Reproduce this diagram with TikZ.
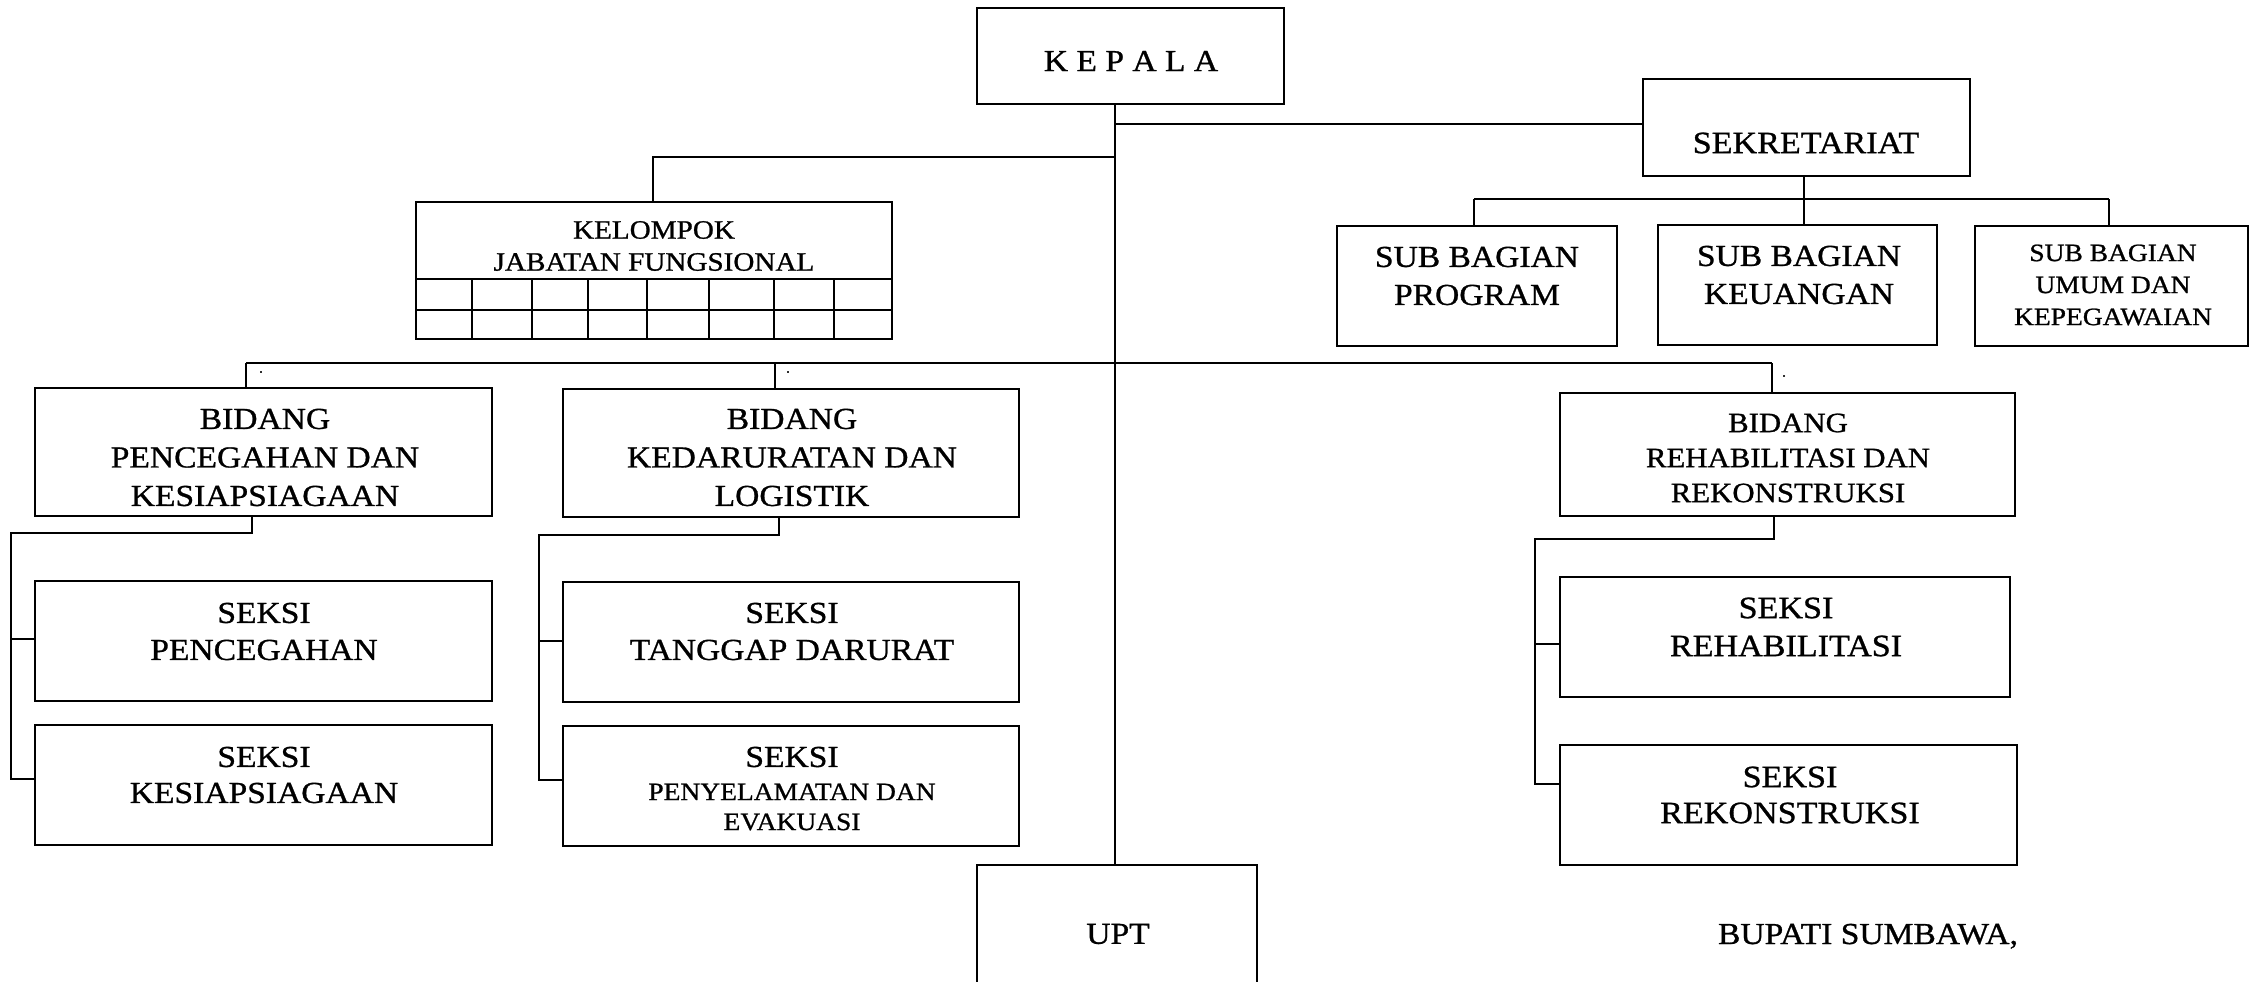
\documentclass[tikz,border=0pt]{standalone}
\usepackage{fontspec}
\setmainfont{Liberation Serif}[FakeStretch=1.1,FakeBold=0.9]
\begin{document}
\begin{tikzpicture}[x=1pt,y=-1pt,
  box/.style={draw,line width=2.2pt,inner sep=0pt,outer sep=0pt},
  txt/.style={align=center,inner sep=0pt,font=\fontsize{30.5}{38}\selectfont},
  conn/.style={line width=1.9pt},
  mainline/.style={line width=1.6pt},
  gridline/.style={line width=1.8pt},
  dotlbl/.style={inner sep=0pt,font=\fontsize{14}{14}\selectfont}]
\useasboundingbox (0,0) rectangle (2259,982);
\clip (0,0) rectangle (2259,982);
\fill[white] (0,0) rectangle (2259,982);

% boxes
\node[box,minimum width=307pt,minimum height=96pt] (kepala) at (1130.5,56) {};
\node[box,minimum width=327pt,minimum height=97pt] (sek) at (1806.5,127.5) {};
\node[box,minimum width=280pt,minimum height=120pt] (sbprog) at (1477,286) {};
\node[box,minimum width=279pt,minimum height=120pt] (sbkeu) at (1797.5,285) {};
\node[box,minimum width=273pt,minimum height=120pt] (sbumum) at (2111.5,286) {};
\node[box,minimum width=476pt,minimum height=137pt] (jf) at (654,270.5) {};
\node[box,minimum width=457pt,minimum height=128pt] (bpc) at (263.5,452) {};
\node[box,minimum width=456pt,minimum height=128pt] (bkl) at (791,453) {};
\node[box,minimum width=455pt,minimum height=123pt] (brr) at (1787.5,454.5) {};
\node[box,minimum width=457pt,minimum height=120pt] (spc) at (263.5,641) {};
\node[box,minimum width=457pt,minimum height=120pt] (sks) at (263.5,785) {};
\node[box,minimum width=456pt,minimum height=120pt] (stg) at (791,642) {};
\node[box,minimum width=456pt,minimum height=120pt] (spe) at (791,786) {};
\node[box,minimum width=450pt,minimum height=120pt] (srh) at (1785,637) {};
\node[box,minimum width=457pt,minimum height=120pt] (srk) at (1788.5,805) {};
\node[box,minimum width=280pt,minimum height=135pt] (upt) at (1117,932.5) {};

% grid of jabatan fungsional
\draw[gridline] (jf.west |- 0,279) -- (jf.east |- 0,279);
\draw[gridline] (jf.west |- 0,310) -- (jf.east |- 0,310);
\foreach \gx in {472,532,588,647,709,774,834}
  \draw[gridline] (\gx,279) -- (\gx,339);

% connectors
\coordinate (mx) at (1115,0);
\draw[mainline] (kepala.south -| mx) -- (upt.north -| mx);
\draw[conn] (mx |- 0,124) -- (sek.west |- 0,124);
\coordinate (jfc) at (653,157);
\draw[conn] (mx |- jfc) -- (jfc) -- (jfc |- jf.north);

\coordinate (b1) at (246,363);
\coordinate (b2) at (775,363);
\coordinate (b3) at (1772,363);
\draw[conn] (b1) -- (b3);
\draw[conn] (b1) -- (b1 |- bpc.north);
\draw[conn] (b2) -- (b2 |- bkl.north);
\draw[conn] (b3) -- (b3 |- brr.north);

\coordinate (s1) at (1474,199);
\coordinate (s2) at (1804,199);
\coordinate (s3) at (2109,199);
\draw[conn] (sek.south -| s2) -- (s2 |- sbkeu.north);
\draw[conn] (s1) -- (s3);
\draw[conn] (s1) -- (s1 |- sbprog.north);
\draw[conn] (s3) -- (s3 |- sbumum.north);

\coordinate (pa) at (252,533);
\coordinate (pb) at (11,533);
\draw[conn] (bpc.south -| pa) -- (pa) -- (pb) -- (pb |- 0,779) -- (sks.west |- 0,779);
\draw[conn] (pb |- 0,639) -- (spc.west |- 0,639);

\coordinate (ka) at (779,535);
\coordinate (kb) at (539,535);
\draw[conn] (bkl.south -| ka) -- (ka) -- (kb) -- (kb |- 0,780) -- (spe.west |- 0,780);
\draw[conn] (kb |- 0,641) -- (stg.west |- 0,641);

\coordinate (ra) at (1774,539);
\coordinate (rb) at (1535,539);
\draw[conn] (brr.south -| ra) -- (ra) -- (rb) -- (rb |- 0,784) -- (srk.west |- 0,784);
\draw[conn] (rb |- 0,644) -- (srh.west |- 0,644);

% stray dots
\node[dotlbl] (d1) at (261,372) {.};
\node[dotlbl] (d2) at (788,372) {.};
\node[dotlbl] (d3) at (1784,376) {.};

% texts
\node[txt] (tkep) at (1131,61) {K E P A L A};
\node[txt,font=\fontsize{31}{38}\selectfont] (tsek) at (1806,143) {SEKRETARIAT};
\node[txt] (tsbp) at (1477,276) {SUB BAGIAN\\PROGRAM};
\node[txt] (tsbk) at (1799,275) {SUB BAGIAN\\KEUANGAN};
\node[txt,font=\fontsize{25}{32}\selectfont] (tsbu) at (2113,285) {SUB BAGIAN\\UMUM DAN\\KEPEGAWAIAN};
\node[txt,font=\fontsize{26.5}{32}\selectfont] (tjf) at (654,246) {KELOMPOK\\JABATAN FUNGSIONAL};
\node[txt,font=\fontsize{30.5}{38.5}\selectfont] (tbpc) at (265,457.5) {BIDANG\\PENCEGAHAN DAN\\KESIAPSIAGAAN};
\node[txt,font=\fontsize{30.5}{38.5}\selectfont] (tbkl) at (792,457.5) {BIDANG\\KEDARURATAN DAN\\LOGISTIK};
\node[txt,font=\fontsize{28}{35}\selectfont] (tbrr) at (1788,458) {BIDANG\\REHABILITASI DAN\\REKONSTRUKSI};
\node[txt,font=\fontsize{30.5}{37}\selectfont] (tspc) at (264,631.5) {SEKSI\\PENCEGAHAN};
\node[txt,font=\fontsize{30.5}{36}\selectfont] (tsks) at (264,775) {SEKSI\\KESIAPSIAGAAN};
\node[txt,font=\fontsize{30.5}{37}\selectfont] (tstg) at (792,631.5) {SEKSI\\TANGGAP DARURAT};
\node[txt] (tspe1) at (792,757) {SEKSI};
\node[txt,font=\fontsize{25}{30}\selectfont] (tspe2) at (792,807) {PENYELAMATAN DAN\\EVAKUASI};
\node[txt,font=\fontsize{31}{38}\selectfont] (tsrh) at (1786,627) {SEKSI\\REHABILITASI};
\node[txt,font=\fontsize{31}{36}\selectfont] (tsrk) at (1790,795) {SEKSI\\REKONSTRUKSI};
\node[txt] (tupt) at (1118,934) {UPT};
\node[txt,anchor=base] (tbup) at (1868,944) {BUPATI SUMBAWA,};
\end{tikzpicture}
\end{document}
